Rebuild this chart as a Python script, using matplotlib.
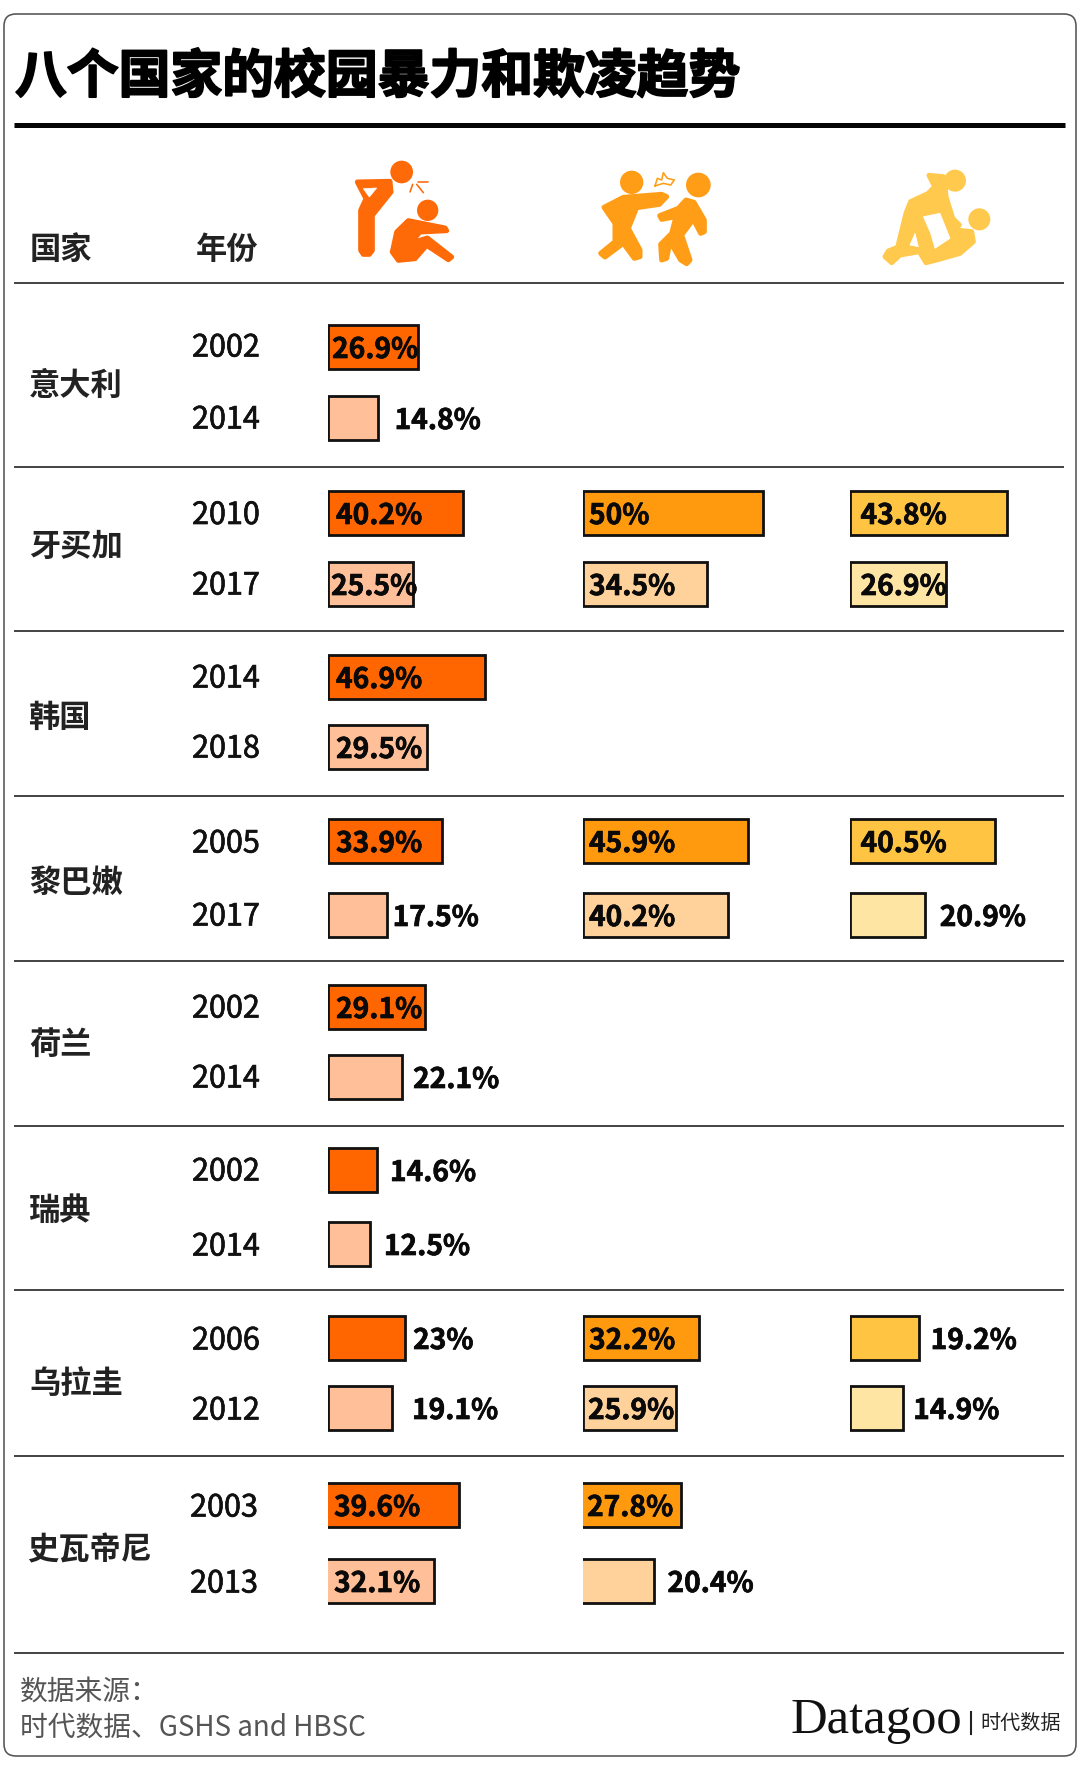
import matplotlib
matplotlib.use("Agg")
import matplotlib.pyplot as plt
import matplotlib.patheffects as pe
from matplotlib.patches import FancyBboxPatch, Polygon, Circle

plt.rcParams['font.family'] = ['Noto Sans CJK SC', 'DejaVu Sans']

W, H = 1080, 1768
DPI = 100

# ---------- data ----------
title = "八个国家的校园暴力和欺凌趋势"
head_country, head_year = "国家", "年份"
countries = ["意大利", "牙买加", "韩国", "黎巴嫩", "荷兰", "瑞典", "乌拉圭", "史瓦帝尼"]
years_first = [2002, 2010, 2014, 2005, 2002, 2002, 2006, 2003]
years_last = [2014, 2017, 2018, 2017, 2014, 2014, 2012, 2013]
col1_first = [26.9, 40.2, 46.9, 33.9, 29.1, 14.6, 23, 39.6]
col1_last = [14.8, 25.5, 29.5, 17.5, 22.1, 12.5, 19.1, 32.1]
col2_first = [None, 50, None, 45.9, None, None, 32.2, 27.8]
col2_last = [None, 34.5, None, 40.2, None, None, 25.9, 20.4]
col3_first = [None, 43.8, None, 40.5, None, None, 19.2, None]
col3_last = [None, 26.9, None, 20.9, None, None, 14.9, None]
source_lines = ["数据来源：", "时代数据、GSHS and HBSC"]

# ---------- layout (pixels) ----------
row_first_y = [347, 513, 677, 841, 1007, 1170, 1338, 1505]
row_last_y = [418, 584, 747, 915, 1077, 1244, 1408, 1581]
year_first_y = [348, 515.5, 679, 844, 1009, 1172, 1341, 1508]
year_last_y = [420, 586, 749, 917, 1079, 1247, 1411, 1584]
country_y = [385.5, 547, 718, 883, 1044.5, 1211, 1384, 1550]
sep_y = [282.5, 466.5, 631, 796, 961, 1126, 1290, 1456, 1653]
row_shift = [0, 0, 0, 0, 0, 0, 0, -2]
# label offset: positive = inside, from bar start; negative = outside, gap from bar end
col1_first_dx = [4, 8, 8, 8, 8, -13, -8, 8]
col1_last_dx = [-17, 3, 8, -6, -11, -14, -20, 8]
col2_first_dx = [0, 6, 0, 6, 0, 0, 6, 6]
col2_last_dx = [0, 6, 0, 6, 0, 0, 5, -13]
col3_first_dx = [0, 11, 0, 11, 0, 0, -12, 0]
col3_last_dx = [0, 11, 0, -15, 0, 0, -10, 0]
col_left = [328, 583, 849.5]
col_scale = [3.35, 3.6, 3.6]
col_colors = [("#FF6600", "#FFBF98"), ("#FF9A0E", "#FFD29C"), ("#FFC542", "#FFE5A3")]
col_icon = ["#FF6A08", "#FF9D16", "#FFC94D"]

fig = plt.figure(figsize=(W / DPI, H / DPI), dpi=DPI, facecolor="white")
bg = fig.add_axes([0, 0, 1, 1])
bg.set_xlim(0, W)
bg.set_ylim(H, 0)
bg.axis("off")

px = 0.72  # pt per pixel at 100 dpi

bg.add_patch(FancyBboxPatch((4, 14), 1072, 1742, boxstyle="round,pad=0,rounding_size=12",
                            fc="white", ec="#555555", lw=1.6 * px))
bg.plot([14, 1065], [125, 125], color="#050505", lw=5 * px, solid_capstyle="butt")
for i, y in enumerate(sep_y):
    bg.plot([14, 1064], [y, y], color="#333333", lw=1.8 * px, solid_capstyle="butt")

t = bg.text(15, 77, title, fontsize=37.3, weight="bold", color="black", va="center", ha="left")
t.set_path_effects([pe.withStroke(linewidth=1.4, foreground="black")])
bg.text(30, 250, head_country, fontsize=22.5, weight="bold", color="#222222", va="center")
bg.text(196, 250, head_year, fontsize=22.5, weight="bold", color="#222222", va="center")

year_fx = [pe.withStroke(linewidth=0.5, foreground="#111111")]
for i, c in enumerate(countries):
    bg.text(29 + row_shift[i], country_y[i], c, fontsize=22.5, weight="bold", color="#222222", va="center")
    xc = 226 + row_shift[i]
    bg.text(xc, year_first_y[i], str(years_first[i]), fontsize=22, color="#111111", ha="center", va="center",
            path_effects=year_fx)
    bg.text(xc, year_last_y[i], str(years_last[i]), fontsize=22, color="#111111", ha="center", va="center",
            path_effects=year_fx)

bg.text(20, 1692, source_lines[0], fontsize=20, color="#555555", va="center", weight="light")
bg.text(20, 1728, source_lines[1], fontsize=20, color="#555555", va="center", weight="light")
bg.text(791, 1721, "Datagoo", fontsize=36.5, family="Liberation Serif", color="#111111", va="center", ha="left")
bg.plot([971, 971], [1712, 1734], color="#222222", lw=1.5)
bg.text(980, 1723, "时代数据", fontsize=14.5, color="#222222", va="center", ha="left")


# ---------- icons ----------
def icon(origin, polys, holes=(), circles=(), lines=(), color="k"):
    ox, oy = origin
    f = lambda p: (ox + p[0] / 3, oy + p[1] / 3)
    for pts in polys:
        bg.add_patch(Polygon([f(p) for p in pts], closed=True, fc=color, ec=color, lw=5 * px, joinstyle="round"))
    for pts in holes:
        bg.add_patch(Polygon([f(p) for p in pts], closed=True, fc="white", ec="white", lw=0.5))
    for (cx, cy, r) in circles:
        bg.add_patch(Circle(f((cx, cy)), r / 3, fc=color, ec="none"))
    for pts in lines:
        xs, ys = zip(*[f(p) for p in pts])
        bg.plot(xs, ys, color=color, lw=1.6 * px, solid_capstyle="round")


icon((320, 152),
     polys=[[(112, 90), (210, 88), (213, 120), (157, 190), (157, 295), (148, 307), (130, 307), (122, 295),
             (122, 175), (138, 140)],
            [(265, 206), (375, 228), (380, 236), (300, 240), (270, 274), (322, 258), (395, 315), (385, 323),
             (320, 280), (285, 320), (235, 325), (217, 300), (230, 240)]],
     holes=[[(130, 110), (170, 108), (148, 135)]],
     circles=[(245, 60, 34), (323, 175, 32)],
     lines=[[(270, 120), (278, 97)], [(293, 90), (325, 90)], [(290, 97), (310, 122)]],
     color=col_icon[0])
icon((580, 150),
     polys=[[(72, 172), (130, 142), (245, 133), (260, 140), (238, 163), (170, 173), (145, 235), (180, 300),
             (180, 320), (163, 325), (130, 280), (75, 321), (62, 310), (105, 275), (105, 220)],
            [(318, 150), (342, 157), (373, 210), (373, 245), (362, 250), (340, 208), (305, 255), (330, 330),
             (320, 341), (302, 330), (270, 275), (260, 325), (245, 330), (242, 283), (275, 250), (288, 200),
             (245, 208), (239, 197), (295, 175)]],
     circles=[(155, 97, 35), (355, 105, 37)],
     lines=[[(225, 108), (232, 85), (245, 90), (250, 68), (262, 85), (283, 90), (272, 105), (250, 100), (225, 108)]],
     color=col_icon[1])
icon((860, 150),
     polys=[[(207, 76), (250, 80), (255, 105), (258, 140), (278, 205), (298, 225), (290, 233), (285, 240),
             (335, 245), (340, 275), (300, 310), (230, 330), (198, 338), (178, 305), (120, 315), (95, 338),
             (75, 320), (85, 303), (113, 292), (138, 190), (152, 155), (205, 130), (224, 110)]],
     holes=[[(190, 200), (240, 190), (270, 265), (225, 295), (212, 250)],
            [(150, 285), (165, 250), (175, 290)]],
     circles=[(358, 208, 33), (285, 92, 33)],
     color=col_icon[2])

# ---------- bars ----------
columns = [(col1_first, col1_last, col1_first_dx, col1_last_dx),
           (col2_first, col2_last, col2_first_dx, col2_last_dx),
           (col3_first, col3_last, col3_first_dx, col3_last_dx)]
BAR_H = 44
label_fx = [pe.withStroke(linewidth=0.5, foreground="#0a0a0a")]
for c, (first, last, dx_first, dx_last) in enumerate(columns):
    ax = fig.add_axes([col_left[c] / W, 0, 200 / W, 1])
    ax.set_xlim(0, 200 / col_scale[c])
    ax.set_ylim(H, 0)
    ax.axis("off")
    ax.patch.set_alpha(0)
    for vals, ys, dxs, shade in ((first, row_first_y, dx_first, 0), (last, row_last_y, dx_last, 1)):
        for i, v in enumerate(vals):
            if v is None:
                continue
            left = row_shift[i] / col_scale[c]
            ax.barh(ys[i], v, left=left, height=BAR_H, color=col_colors[c][shade], edgecolor="#111111",
                    linewidth=2.8 * px)
            label = f"{v:g}%"
            dx = dxs[i]
            if dx > 0:
                xy, off = (left, ys[i]), dx
            else:
                xy, off = (left + v, ys[i]), -dx
            ax.annotate(label, xy=xy, xytext=(off * px, -3 * px), textcoords="offset points",
                        fontsize=20.3, weight="bold", color="#0a0a0a", ha="left", va="center",
                        annotation_clip=False, path_effects=label_fx)

fig.savefig("out.png", dpi=DPI, facecolor="white")
